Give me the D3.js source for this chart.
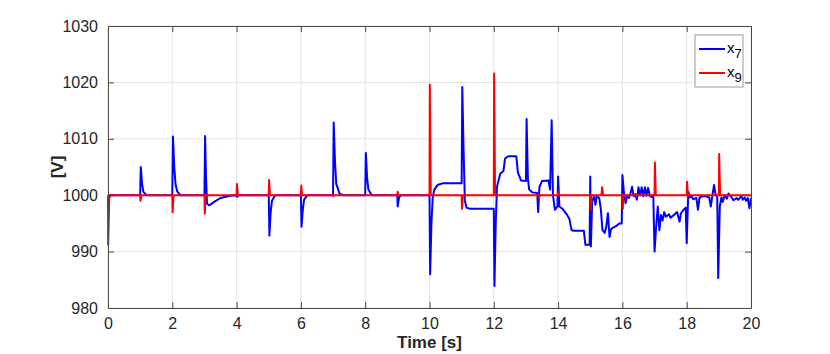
<!DOCTYPE html>
<html>
<head>
  <meta charset="utf-8">
  <script src="https://d3js.org/d3.v7.min.js"></script>
  <style>
    body { margin: 0; background: #fff; }
    svg { font-family: "Liberation Sans", Arial, sans-serif; }
  </style>
</head>
<body>
<div id="chart"></div>
<script>
// x7 (blue) : [time s, value V]
var x7 = [
  [0,1000],
  [1.0,1000],[1.02,1005],[1.06,1002],[1.1,1000.6],[1.2,1000],
  [2.0,1000],[2.02,1010.4],[2.06,1005],[2.1,1002],[2.15,1000.7],[2.25,1000],
  [3.0,1000],[3.02,1010.5],[3.05,1003],[3.08,998.5],[3.15,998.2],[3.3,998.8],[3.5,999.5],[3.8,999.9],[4.0,1000],
  [4.02,999.7],[4.05,1000],
  [5.0,1000],[5.02,992.8],[5.06,997],[5.1,999],[5.2,1000],
  [6.0,1000],[6.02,994.4],[6.06,997.5],[6.1,999.2],[6.2,1000],
  [7.0,1000],[7.02,1012.9],[7.06,1006],[7.1,1002],[7.2,1000.3],[7.3,1000],
  [8.0,1000],[8.02,1007.5],[8.06,1003],[8.1,1001],[8.2,1000],
  [9.0,1000],[9.01,998],[9.05,999.5],[9.1,1000],
  [10.0,1000],[10.02,986],[10.06,995],[10.1,999.5],[10.15,1001],[10.25,1001.8],[10.4,1002.1],[11.0,1002.1],
  [11.02,1019.2],[11.06,1008],[11.1,999],[11.15,997.8],[11.25,997.6],[12.0,997.6],
  [12.02,983.9],[12.06,995],[12.1,1001.5],[12.2,1003.8],[12.3,1004.3],[12.35,1006.5],[12.45,1006.9],[12.7,1006.9],
  [12.75,1004],[12.85,1002.6],[13.0,1002.5],
  [13.02,1013.5],[13.06,1003],[13.1,1001],[13.2,1000.5],[13.35,1000.4],[13.38,997],[13.42,1001.5],[13.5,1002.5],
  [13.7,1002.6],[13.75,1001],
  [13.8,1013.3],[13.84,1000],[13.9,997.4],[13.98,998],[14.0,1003.3],[14.04,998],[14.15,997.5],[14.28,996.5],
  [14.35,995.8],[14.42,993.8],[14.5,993.7],[14.8,993.7],[14.85,991.2],[14.98,991.2],
  [15.0,1003.3],[15.02,990.9],[15.06,999],[15.12,999.7],[15.16,998.3],[15.2,999.8],[15.28,999.5],[15.33,997.5],
  [15.38,993.8],[15.45,993.3],[15.5,994.5],[15.55,996.8],[15.6,992.6],[15.65,994],[15.7,994.2],[15.8,994.5],
  [15.9,995],[15.98,995],
  [16.0,1003.6],[16.05,1000.3],[16.1,998.6],[16.15,1000],[16.2,999.5],[16.25,1000.3],[16.3,1001.5],[16.35,999.8],
  [16.4,1000.2],[16.45,999.2],[16.5,1001.4],[16.55,1000],[16.6,1001.4],[16.65,999.8],[16.7,1001.4],[16.75,999.9],
  [16.8,1001.3],[16.85,999.9],[16.9,999.7],[16.96,1000],
  [17.0,990],[17.05,994.4],[17.1,998],[17.15,993.8],[17.2,996.5],[17.25,995.5],[17.3,997],[17.35,996.2],
  [17.45,996.6],[17.5,996],[17.6,996.5],[17.7,997],[17.78,995.3],[17.82,996.8],[17.9,997.4],[17.97,997.8],
  [18.0,991.5],[18.05,1000.6],[18.1,999.6],[18.15,999.9],[18.2,999.3],[18.3,999.5],[18.35,997.4],[18.4,999.6],
  [18.5,999.8],[18.6,999.8],[18.7,999.6],[18.75,998],[18.8,1000],[18.85,1001.8],[18.9,1000],[18.95,999.8],
  [18.98,985.3],[19.03,998],[19.08,999.6],[19.12,998.8],[19.18,1000],[19.25,999.4],[19.3,1000.3],[19.4,999.6],
  [19.45,999.1],[19.55,999.5],[19.6,999.2],[19.7,999.8],[19.75,999.2],[19.8,999.6],[19.85,999],[19.9,999.5],
  [19.95,997.7],[20,999.5]
];

// x9 (red)
var x9 = [
  [0,1000],[0.005,991.2],[0.04,999.5],[0.08,1000],
  [1.0,1000],[1.01,999],[1.04,1000],
  [2.0,1000],[2.01,997],[2.04,1000],
  [3.0,1000],[3.01,996.7],[3.04,1000],
  [4.0,1000],[4.01,1002],[4.04,1000],
  [5.0,1000],[5.01,1002.7],[5.04,1000],
  [6.0,1000],[6.01,1001.7],[6.04,1000],
  [7.0,1000],[7.01,999.8],[7.03,1000],
  [9.0,1000],[9.01,1000.6],[9.03,1000],
  [10.0,1000],[10.01,1019.6],[10.04,1000],
  [11.0,1000],[11.01,997.6],[11.04,1000],
  [12.0,1000],[12.01,1021.6],[12.04,1000],
  [13.4,1000],[13.41,999.5],[13.43,1000],
  [14.0,1000],[14.01,1000.6],[14.03,1000],
  [15.0,1000],[15.01,997.4],[15.04,1000],
  [15.35,1000],[15.37,1001.4],[15.4,1000],
  [16.0,1000],[16.01,997.5],[16.04,1000],
  [17.0,1000],[17.01,1005.8],[17.04,1000],
  [18.0,1000],[18.01,1002.4],[18.04,1000],
  [19.0,1000],[19.01,1007.3],[19.04,1000],
  [20,1000]
];

var xTicks = [0, 2, 4, 6, 8, 10, 12, 14, 16, 18, 20];
var yTicks = [980, 990, 1000, 1010, 1020, 1030];
var seriesNames = ["x7", "x9"];
var seriesColors = ["#0000ff", "#ff0000"];

var W = 830, H = 354;
var margin = {left: 108, top: 26, right: 79, bottom: 46};
var w = W - margin.left - margin.right,
    h = H - margin.top - margin.bottom;

var svg = d3.select("#chart").append("svg")
  .attr("width", W).attr("height", H);

var g = svg.append("g")
  .attr("transform", "translate(" + margin.left + "," + margin.top + ")");

var x = d3.scaleLinear().domain([0, 20]).range([0, w]);
var y = d3.scaleLinear().domain([980, 1030]).range([h, 0]);

// grid
g.append("g").selectAll("line").data(xTicks).join("line")
  .attr("x1", d => x(d)).attr("x2", d => x(d))
  .attr("y1", 0).attr("y2", h)
  .attr("stroke", "#e3e3e3").attr("stroke-width", 1);
g.append("g").selectAll("line").data(yTicks).join("line")
  .attr("y1", d => y(d)).attr("y2", d => y(d))
  .attr("x1", 0).attr("x2", w)
  .attr("stroke", "#e3e3e3").attr("stroke-width", 1);

// lines
var line = d3.line().x(d => x(d[0])).y(d => y(d[1]));
[x7, x9].forEach(function(s, i) {
  g.append("path").datum(s)
    .attr("fill", "none")
    .attr("stroke", seriesColors[i])
    .attr("stroke-width", 2)
    .attr("stroke-linejoin", "round")
    .attr("d", line);
});

// axes, ticks inward, box
var tickLen = 6;
var axColor = "#4a4a4a";
var fmt = d3.format("d");
var xAx = d3.axisBottom(x).tickValues(xTicks).tickFormat(fmt).tickSizeInner(-tickLen).tickSizeOuter(0).tickPadding(10);
var yAx = d3.axisLeft(y).tickValues(yTicks).tickFormat(fmt).tickSizeInner(-tickLen).tickSizeOuter(0).tickPadding(10);
var xTop = d3.axisTop(x).tickValues(xTicks).tickSizeInner(-tickLen).tickSizeOuter(0).tickFormat("");
var yRight = d3.axisRight(y).tickValues(yTicks).tickSizeInner(-tickLen).tickSizeOuter(0).tickFormat("");

function styleAxis(sel) {
  sel.selectAll("path").attr("stroke", axColor);
  sel.selectAll("line").attr("stroke", axColor);
  sel.selectAll("text").attr("fill", "#262626")
    .style("font-size", "16px")
    .style("font-family", "'Liberation Sans', Arial, sans-serif");
}
g.append("g").attr("transform", "translate(0," + h + ")").call(xAx).call(styleAxis);
g.append("g").call(yAx).call(styleAxis);
g.append("g").call(xTop).call(styleAxis);
g.append("g").attr("transform", "translate(" + w + ",0)").call(yRight).call(styleAxis);

// axis labels
svg.append("text")
  .attr("x", margin.left + w / 2).attr("y", 348)
  .attr("text-anchor", "middle")
  .style("font-size", "17px").style("font-weight", "bold").attr("fill", "#262626")
  .text("Time [s]");
svg.append("text")
  .attr("transform", "translate(63," + (margin.top + h / 2) + ") rotate(-90)")
  .attr("text-anchor", "middle")
  .style("font-size", "17px").style("font-weight", "bold").attr("fill", "#262626")
  .text("[V]");

// legend
var lg = svg.append("g").attr("transform", "translate(695,35)");
lg.append("rect").attr("width", 48).attr("height", 52)
  .attr("fill", "#fff").attr("stroke", "#999").attr("stroke-width", 1);
seriesNames.forEach(function(n, i) {
  var yy = 14 + i * 24;
  lg.append("line").attr("x1", 4).attr("x2", 30).attr("y1", yy).attr("y2", yy)
    .attr("stroke", seriesColors[i]).attr("stroke-width", 2);
  var t = lg.append("text").attr("x", 32).attr("y", yy + 4)
    .style("font-size", "15px").attr("fill", "#000");
  t.append("tspan").text("x");
  t.append("tspan").attr("dy", 5).style("font-size", "13px").text(n.slice(1));
});
</script>
</body>
</html>
